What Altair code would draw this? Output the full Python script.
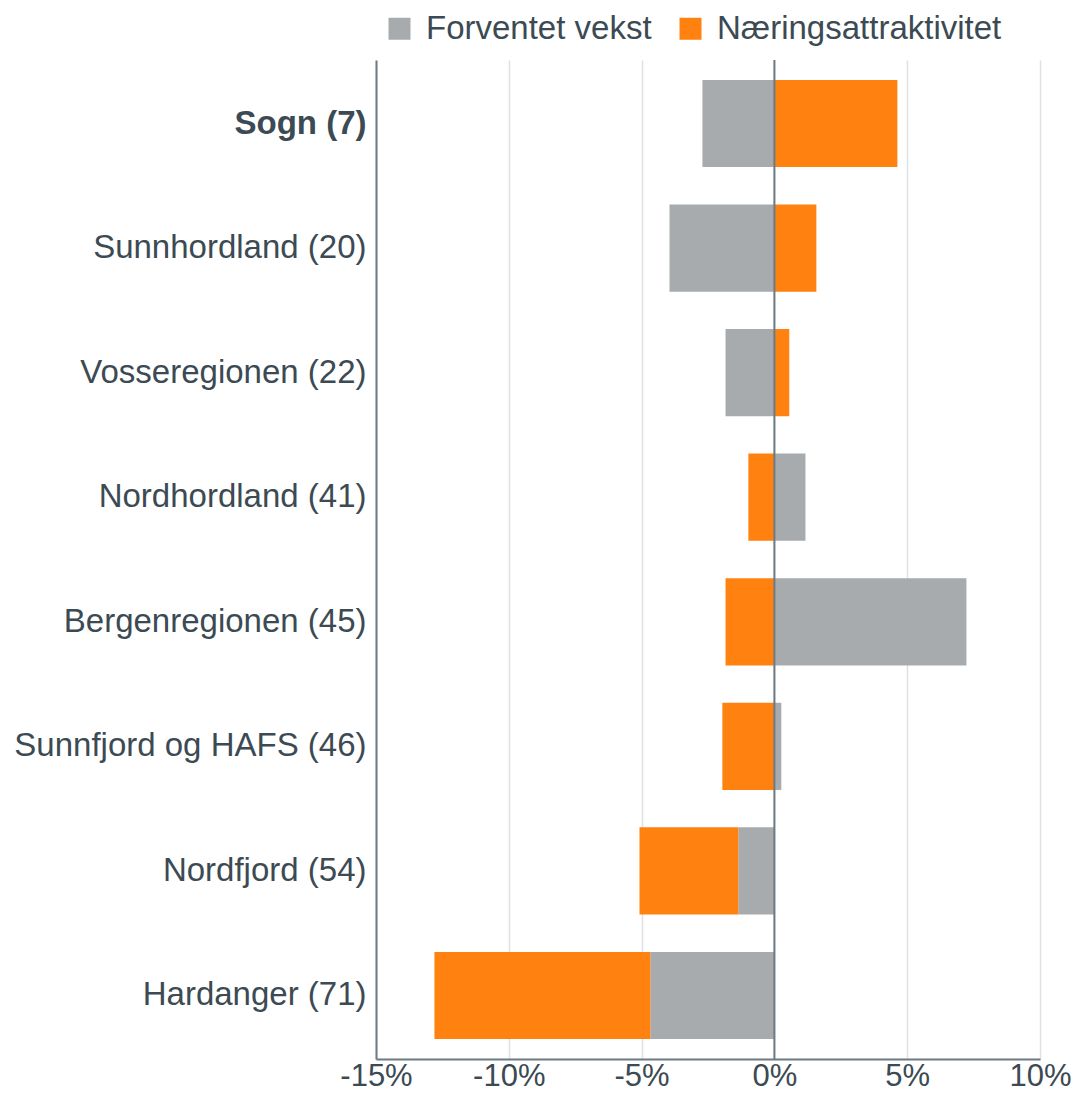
import altair as alt
import pandas as pd

regions = ["Sogn (7)", "Sunnhordland (20)", "Vosseregionen (22)", "Nordhordland (41)",
           "Bergenregionen (45)", "Sunnfjord og HAFS (46)", "Nordfjord (54)", "Hardanger (71)"]
forventet_vekst = [-2.71, -3.95, -1.84, 1.17, 7.23, 0.26, -1.36, -4.67]
naeringsattraktivitet = [4.63, 1.58, 0.56, -0.98, -1.84, -1.96, -3.72, -8.13]
series = ["Forventet vekst", "Næringsattraktivitet"]
colors = ["#a7abae", "#ff8210"]

rows = []
for r, a, b in zip(regions, forventet_vekst, naeringsattraktivitet):
    rows.append({"region": r, "serie": series[0], "verdi": a, "rekke": 0})
    rows.append({"region": r, "serie": series[1], "verdi": b, "rekke": 1})
df = pd.DataFrame(rows)

FONT = "Liberation Sans"
TXT = "#3c4a53"
AX = "#6b7a85"
FS = 33

bars = alt.Chart(df).mark_bar().encode(
    y=alt.Y("region:N", sort=regions, title=None,
            scale=alt.Scale(paddingInner=0.3, paddingOuter=0.16),
            axis=alt.Axis(labelFontSize=FS, labelColor=TXT, labelFont=FONT,
                          labelPadding=10, ticks=False, domainColor=AX, domainWidth=2,
                          labelLimit=400,
                          labelFontWeight=alt.ExprRef("datum.value == 'Sogn (7)' ? 'bold' : 'normal'"))),
    x=alt.X("verdi:Q", title=None, stack="zero",
            scale=alt.Scale(domain=[-15, 10], nice=False),
            axis=alt.Axis(values=[-15, -10, -5, 0, 5, 10], labelExpr="datum.value + '%'",
                          labelFontSize=31, labelColor=TXT, labelFont=FONT, ticks=False,
                          labelPadding=2, domainColor=AX, domainWidth=2,
                          gridColor="#dde1e4", gridWidth=1.5, labelFlush=False)),
    color=alt.Color("serie:N", sort=series,
                    scale=alt.Scale(domain=series, range=colors),
                    legend=alt.Legend(title=None, orient="none", direction="horizontal",
                                      legendX=7, legendY=-48, symbolType="square",
                                      symbolSize=484, symbolStrokeWidth=0,
                                      labelFontSize=FS, labelColor=TXT, labelFont=FONT,
                                      labelOffset=10, columnPadding=22, labelLimit=400)),
    order=alt.Order("rekke:Q"),
)

zero = alt.Chart(pd.DataFrame({"x": [0]})).mark_rule(color=AX, strokeWidth=2).encode(x="x:Q")

chart = alt.layer(bars, zero).properties(
    width=664, height=999,
    autosize=alt.AutoSizeParams(type="none"),
    padding={"left": 368, "top": 52, "right": 31, "bottom": 33},
).configure_view(stroke=None)

chart.save("out.html", embed_options={"renderer": "svg", "actions": False})
